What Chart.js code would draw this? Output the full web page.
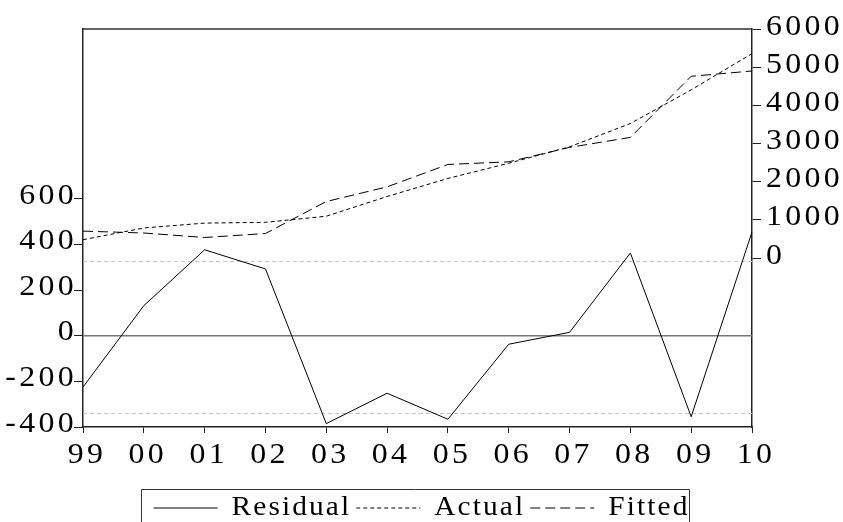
<!DOCTYPE html>
<html><head><meta charset="utf-8">
<script src="https://cdn.jsdelivr.net/npm/chart.js@4.4.1/dist/chart.umd.min.js"></script>
<style>html,body{margin:0;padding:0;background:#fff;overflow:hidden}#wrap{width:843px;height:532px;position:relative}</style>
</head><body><div id="wrap"><canvas id="c"></canvas></div>
<script>
// ---- data ----
const years    = ['99','00','01','02','03','04','05','06','07','08','09','10'];
const residual = [-225, 132, 377, 293, -385, -252, -366, -37, 15, 363, -355, 455];
const actual   = [480, 787, 915, 935, 1095, 1612, 2085, 2483, 2913, 3523, 4406, 5355];
const fitted   = [705, 655, 538, 642, 1480, 1864, 2451, 2520, 2898, 3160, 4761, 4900];
const leftTicks  = [-400, -200, 0, 200, 400, 600];
const rightTicks = [0, 1000, 2000, 3000, 4000, 5000, 6000];
const leftRange  = [-400, 1345];
const rightRange = [-4427, 6000];
const seUpper = 326, seLower = -338;

const FONT = "'Liberation Serif','Times New Roman',serif";
const AXIS_SX = 1.1, LEGEND_SX = 1.05;     // slight horizontal stretch of the original text
const AXIS_LS = '3px', LEGEND_LS = '2px';  // letter spacing of the original text
let TEXT_SX = AXIS_SX;

const canvas = document.getElementById('c');
const c2d = canvas.getContext('2d');
const origFill = c2d.fillText.bind(c2d);
const origMeasure = c2d.measureText.bind(c2d);
c2d.fillText = function(t, x, y, mw){
  this.save(); this.translate(x, y); this.scale(TEXT_SX, 1);
  if (mw !== undefined && mw !== null) origFill(t, 0, 0, mw / TEXT_SX); else origFill(t, 0, 0);
  this.restore();
};
c2d.measureText = function(t){
  const m = origMeasure(t);
  return {
    width: m.width * TEXT_SX,
    actualBoundingBoxAscent: m.actualBoundingBoxAscent,
    actualBoundingBoxDescent: m.actualBoundingBoxDescent,
    actualBoundingBoxLeft: m.actualBoundingBoxLeft * TEXT_SX,
    actualBoundingBoxRight: m.actualBoundingBoxRight * TEXT_SX,
    fontBoundingBoxAscent: m.fontBoundingBoxAscent,
    fontBoundingBoxDescent: m.fontBoundingBoxDescent
  };
};

function withLegendText(fn){
  const o = TEXT_SX, ol = c2d.letterSpacing;
  TEXT_SX = LEGEND_SX; c2d.letterSpacing = LEGEND_LS;
  fn();
  TEXT_SX = o; c2d.letterSpacing = ol;
}
function patchLegend(chart){
  const lg = chart.legend;
  if (!lg || lg._patched) return;
  lg._patched = true;
  const f = lg.fit.bind(lg), d = lg.draw.bind(lg);
  lg.fit = function(){ withLegendText(f); };
  lg.draw = function(){ withLegendText(d); };
}

const decor = {
  id: 'decor',
  afterInit(chart){ patchLegend(chart); },
  beforeUpdate(chart){ patchLegend(chart); chart.ctx.letterSpacing = AXIS_LS; },
  beforeLayout(chart){ chart.ctx.letterSpacing = AXIS_LS; },
  beforeDraw(chart){ chart.ctx.letterSpacing = AXIS_LS; },
  beforeDatasetsDraw(chart){
    const {ctx, chartArea: a} = chart;
    const yL = chart.scales.yL;
    ctx.save();
    ctx.lineWidth = 1;
    ctx.strokeStyle = '#c4c4c4';
    ctx.setLineDash([4,3]);
    [seUpper, seLower].forEach(v => {
      const y = Math.round(yL.getPixelForValue(v)) + 0.5;
      ctx.beginPath(); ctx.moveTo(a.left, y); ctx.lineTo(a.right, y); ctx.stroke();
    });
    ctx.setLineDash([]);
    ctx.strokeStyle = '#777';
    ctx.lineWidth = 1.5;
    const y0 = yL.getPixelForValue(0);
    ctx.beginPath(); ctx.moveTo(a.left, y0); ctx.lineTo(a.right, y0); ctx.stroke();
    ctx.restore();
  },
  afterDraw(chart){
    const {ctx, chartArea: a} = chart;
    ctx.save();
    ctx.strokeStyle = '#333';
    ctx.lineWidth = 1.5;
    ctx.beginPath(); ctx.moveTo(a.left, a.top); ctx.lineTo(a.right, a.top); ctx.stroke();
    const lg = chart.legend;
    const hb = lg.legendHitBoxes;
    if (hb && hb.length){
      const l = Math.round(hb[0].left - 13) + 0.5;
      const last = hb[hb.length-1];
      const r = Math.round(last.left + last.width) + 0.5;
      const t = Math.round(lg.top) + 0.5;
      ctx.lineWidth = 1;
      ctx.strokeStyle = '#333';
      ctx.beginPath();
      ctx.moveTo(l, chart.height + 5); ctx.lineTo(l, t); ctx.lineTo(r, t); ctx.lineTo(r, chart.height + 5);
      ctx.stroke();
    }
    ctx.restore();
  }
};

Chart.defaults.color = '#000';
Chart.defaults.font.family = FONT;

const tickFont = {family: FONT, size: 29};

new Chart(canvas, {
  type: 'line',
  data: {
    labels: years,
    datasets: [
      {label: 'Residual', data: residual, yAxisID: 'yL', borderColor: '#000', backgroundColor: 'transparent', borderWidth: 1, pointRadius: 0, tension: 0},
      {label: 'Actual', data: actual, yAxisID: 'yR', borderColor: '#000', backgroundColor: 'transparent', borderWidth: 1, borderDash: [4,3], pointRadius: 0, tension: 0},
      {label: 'Fitted', data: fitted, yAxisID: 'yR', borderColor: '#000', backgroundColor: 'transparent', borderWidth: 1, borderDash: [10,5], pointRadius: 0, tension: 0}
    ]
  },
  options: {
    responsive: true,
    maintainAspectRatio: false,
    devicePixelRatio: 1,
    animation: false,
    events: [],
    layout: {padding: {top: 29, left: 0, right: 0, bottom: 0}},
    plugins: {
      tooltip: {enabled: false},
      legend: {
        position: 'bottom',
        labels: {
          font: {family: FONT, size: 28},
          color: '#000',
          usePointStyle: true,
          pointStyle: 'line',
          pointStyleWidth: 64,
          boxHeight: 10,
          padding: 5,
          generateLabels(chart){
            const items = Chart.defaults.plugins.legend.labels.generateLabels(chart);
            return items.map(it => {
              const ds = chart.data.datasets[it.datasetIndex];
              return Object.assign(it, {lineDash: ds.borderDash || [], strokeStyle: '#000', lineWidth: 1, fillStyle: 'transparent', pointStyle: 'line'});
            });
          }
        }
      }
    },
    scales: {
      x: {
        type: 'category',
        offset: false,
        grid: {display: true, drawOnChartArea: false, drawTicks: true, tickLength: 6, color: '#222', offset: false},
        border: {display: true, color: '#222', width: 1.5},
        ticks: {font: tickFont, color: '#000', padding: 5, labelOffset: 4, maxRotation: 0, autoSkip: false},
        afterFit(s){ s.height = 62; }
      },
      yL: {
        type: 'linear',
        position: 'left',
        min: leftRange[0], max: leftRange[1],
        grid: {display: true, drawOnChartArea: false, drawTicks: true, tickLength: 9, color: '#222'},
        border: {display: true, color: '#222', width: 1.5},
        ticks: {font: tickFont, color: '#000', padding: -3, labelOffset: -3},
        afterBuildTicks(s){ s.ticks = leftTicks.map(v => ({value: v})); },
        afterFit(s){ s.width = 83; }
      },
      yR: {
        type: 'linear',
        position: 'right',
        min: rightRange[0], max: rightRange[1],
        grid: {display: true, drawOnChartArea: false, drawTicks: true, tickLength: 9, color: '#222'},
        border: {display: true, color: '#222', width: 1.5},
        ticks: {font: tickFont, color: '#000', padding: 5, labelOffset: -2, callback: v => String(v)},
        afterBuildTicks(s){ s.ticks = rightTicks.map(v => ({value: v})); },
        afterFit(s){ s.width = 91; }
      }
    }
  },
  plugins: [decor]
});
</script>
</body></html>
